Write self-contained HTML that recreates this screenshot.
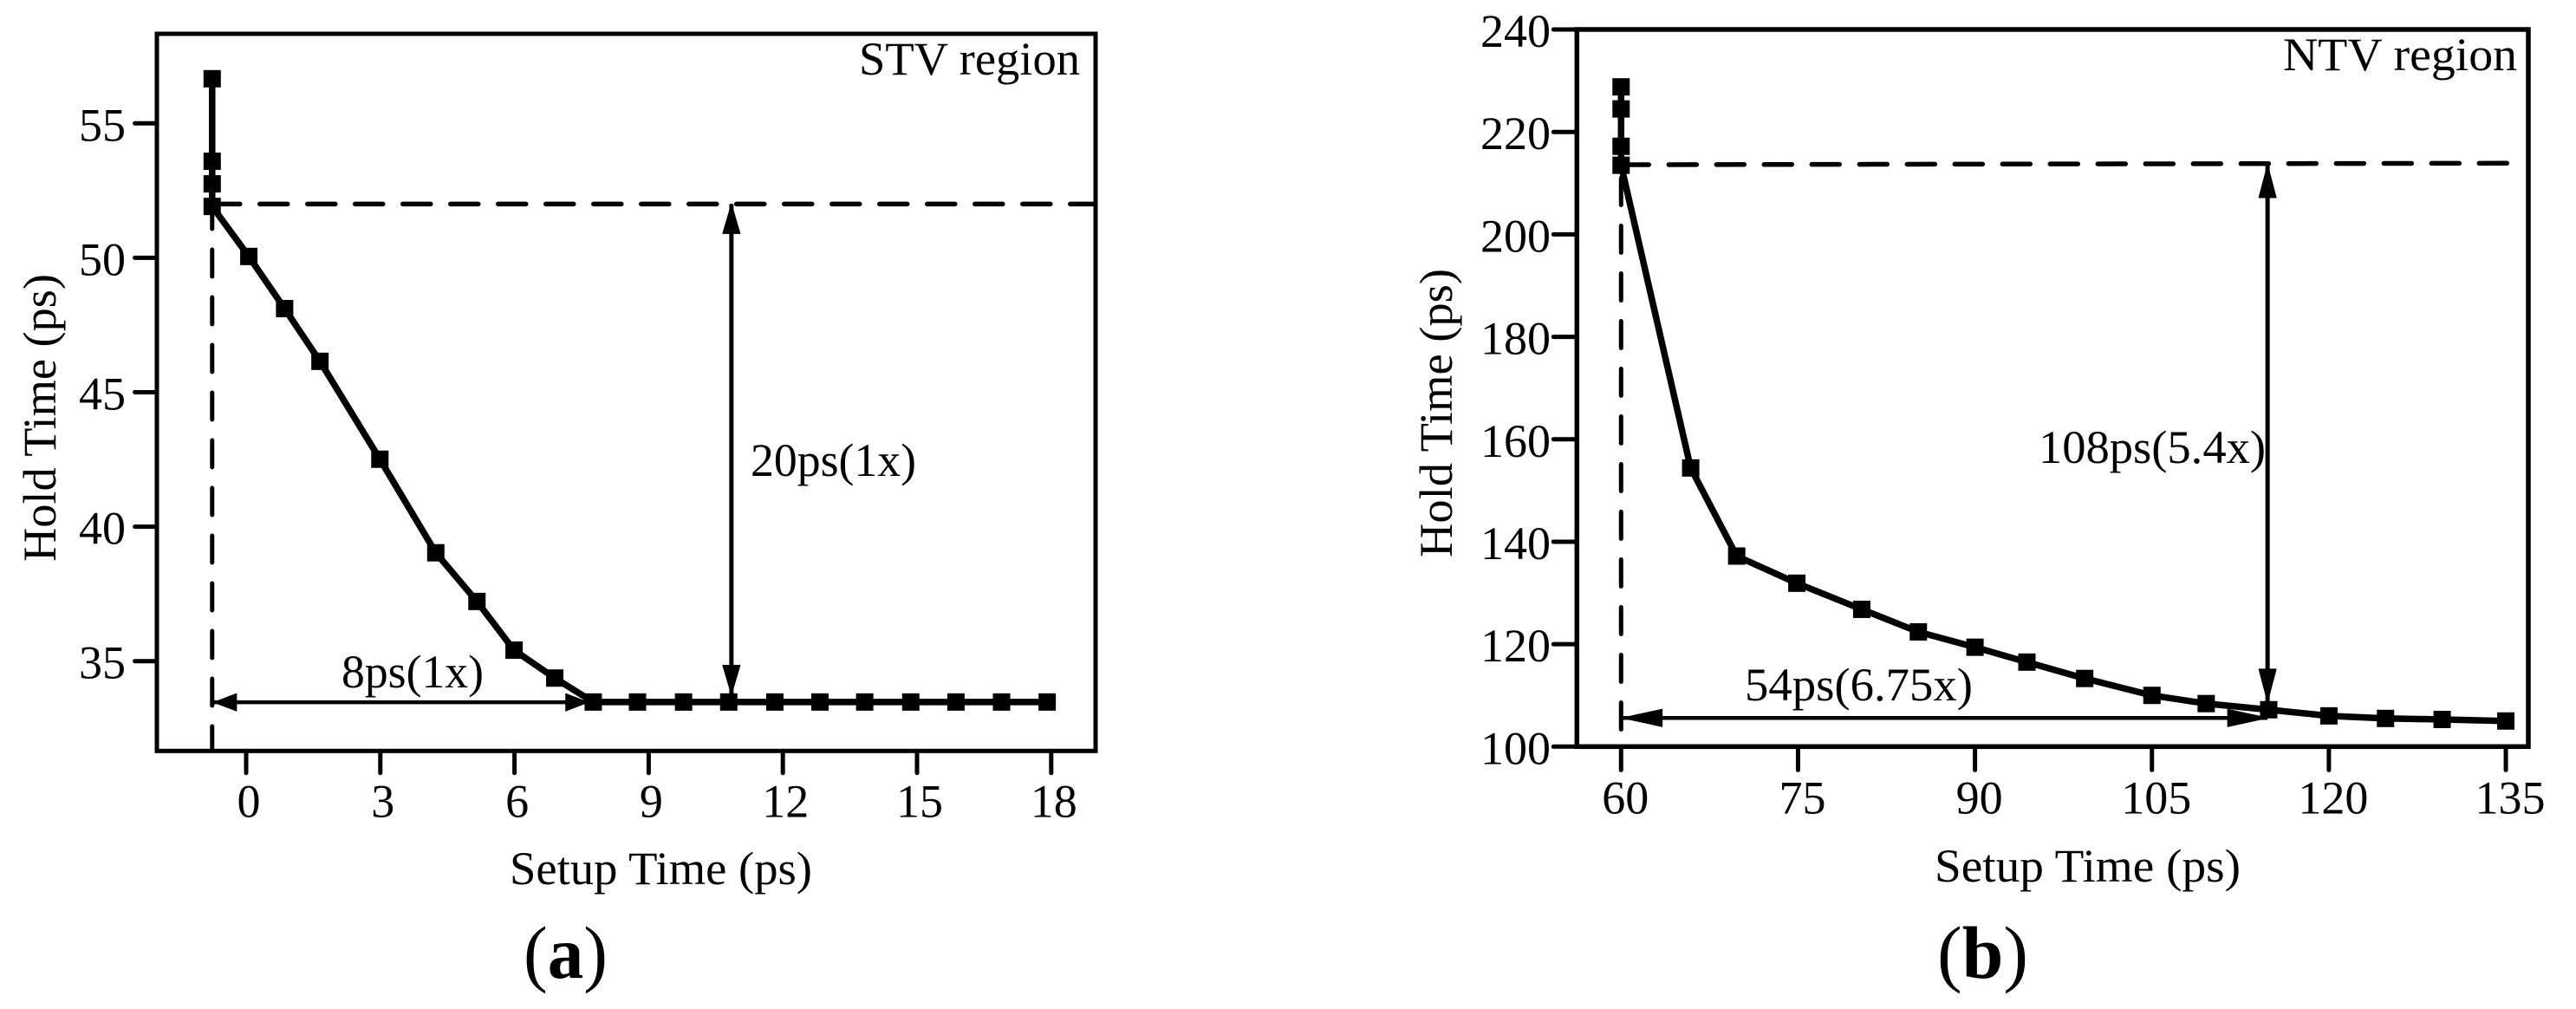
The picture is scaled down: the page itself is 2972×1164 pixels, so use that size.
<!DOCTYPE html>
<html lang="en">
<head>
<meta charset="utf-8">
<title>Hold Time vs Setup Time: STV and NTV regions</title>
<style>
html,body{margin:0;padding:0;background:#fff;}
svg{display:block;}
text{font-family:"Liberation Serif","Times New Roman",serif;fill:#000;font-size:54px;}
</style>
</head>
<body>
<svg id="figure" xmlns="http://www.w3.org/2000/svg" width="2972" height="1164" viewBox="0 0 2972 1164">
  <rect width="2972" height="1164" fill="#fff"/>
  <g id="panel-a"></g>
  <g id="panel-b"></g>

  <text x="991" y="86" textLength="255" lengthAdjust="spacingAndGlyphs">STV region</text>
  <text transform="translate(64,648) rotate(-90)" textLength="332" lengthAdjust="spacingAndGlyphs">Hold Time (ps)</text>
  <text x="588" y="1020" textLength="349" lengthAdjust="spacingAndGlyphs">Setup Time (ps)</text>
  <text x="394" y="793" textLength="164" lengthAdjust="spacingAndGlyphs">8ps(1x)</text>
  <text x="866" y="549" textLength="191" lengthAdjust="spacingAndGlyphs">20ps(1x)</text>
  <text x="604" y="1128" textLength="97" lengthAdjust="spacingAndGlyphs" style="font-size:86px">(<tspan font-weight="bold">a</tspan>)</text>

  <text x="2634" y="81" textLength="270" lengthAdjust="spacingAndGlyphs">NTV region</text>
  <text transform="translate(1675,643) rotate(-90)" textLength="333" lengthAdjust="spacingAndGlyphs">Hold Time (ps)</text>
  <text x="2232" y="1017" textLength="353" lengthAdjust="spacingAndGlyphs">Setup Time (ps)</text>
  <text x="2013" y="808" textLength="263" lengthAdjust="spacingAndGlyphs">54ps(6.75x)</text>
  <text x="2352" y="534" textLength="262" lengthAdjust="spacingAndGlyphs">108ps(5.4x)</text>
  <text x="2235" y="1128" textLength="105" lengthAdjust="spacingAndGlyphs" style="font-size:86px">(<tspan font-weight="bold">b</tspan>)</text>
</svg>
<script>
var stvSetup = [-0.76,-0.76,-0.76,-0.76,0.06,0.86,1.65,2.99,4.24,5.16,5.99,6.9,7.76,8.75,9.78,10.79,11.82,12.83,13.83,14.86,15.87,16.89,17.91];
var stvHold = [56.66,53.59,52.75,51.91,50.05,48.11,46.15,42.51,39.03,37.22,35.41,34.37,33.48,33.48,33.48,33.48,33.48,33.48,33.48,33.48,33.48,33.48,33.48];
var stvXTicks = [0,3,6,9,12,15,18];
var stvYTicks = [35,40,45,50,55];
var stvRefHold = [52,52];
var stvRefSetup = [-0.76,18.98];
var stvSetupArrow = [-0.72,7.65,33.47];
var stvHoldArrow = [10.85,52,33.75];

var ntvSetup = [60,60,60,60,65.9,69.8,74.9,80.4,85.2,90,94.4,99.3,105,109.6,114.9,120,124.8,129.6,135];
var ntvHold = [228.8,224.5,217.2,213.5,154.4,137.2,131.9,126.8,122.4,119.4,116.5,113.3,110,108.4,107.2,106,105.5,105.3,105];
var ntvXTicks = [60,75,90,105,120,135];
var ntvYTicks = [100,120,140,160,180,200,220,240];
var ntvRefHold = [213.6,213.9];
var ntvRefSetup = [60,135.7];
var ntvSetupArrow = [60.1,114.8,105.6];
var ntvHoldArrow = [114.8,213.6,108.7];

var SVGNS = 'http://www.w3.org/2000/svg';

function make(parent, tag, name, attrs) {
  var el = document.createElementNS(SVGNS, tag);
  
  
  for (var k in attrs) { el.setAttribute(k, attrs[k]); }
  parent.appendChild(el);
  return el;
}

function arrowHead(parent, name, tipX, tipY, dx, dy, len, half) {
  var bx = tipX + dx * len, by = tipY + dy * len;
  var px = -dy * half, py = dx * half;
  var pts = [tipX, tipY, bx + px, by + py, bx - px, by - py].join(' ');
  make(parent, 'polygon', name, {points: pts, fill: '#000', stroke: '#000', 'stroke-width': 1, 'stroke-linejoin': 'round'});
}

function drawPanel(cfg) {
  var g = document.getElementById(cfg.id);
  var x = cfg.x, y = cfg.y, p = cfg.prefix;
  var f = cfg.frame;

  cfg.yTicks.forEach(function (v) {
    make(g, 'line', p + '-y-tick-' + v, {x1: f.left - cfg.tickLen, x2: f.left, y1: y(v), y2: y(v), stroke: '#000', 'stroke-width': 5, 'stroke-linecap': 'round'});
    var t = make(g, 'text', p + '-y-tick-label-' + v, {x: cfg.yLabelRight, y: y(v) + 20, 'text-anchor': 'end'});
    t.textContent = String(v);
  });
  cfg.xTicks.forEach(function (v) {
    make(g, 'line', p + '-x-tick-' + v, {x1: x(v), x2: x(v), y1: f.bottom, y2: f.bottom + cfg.tickLen, stroke: '#000', 'stroke-width': 5, 'stroke-linecap': 'round'});
    var t = make(g, 'text', p + '-x-tick-label-' + v, {x: x(v) + cfg.xLabelShift, y: cfg.xLabelBase, 'text-anchor': 'middle'});
    t.textContent = String(v);
  });

  make(g, 'rect', p + '-plot-frame', {x: f.left, y: f.top, width: f.right - f.left, height: f.bottom - f.top, fill: 'none', stroke: '#000', 'stroke-width': cfg.frameWidth});

  make(g, 'line', p + '-reference-hold-dashed', {
    x1: x(cfg.refSetup[0]), y1: y(cfg.refHold[0]), x2: x(cfg.refSetup[1]), y2: y(cfg.refHold[1]),
    stroke: '#000', 'stroke-width': 5.5, 'stroke-dasharray': '32 23', 'stroke-linecap': 'round'
  });
  make(g, 'line', p + '-reference-setup-dashed', {
    x1: x(cfg.refSetup[0]), y1: cfg.vDashStart, x2: x(cfg.refSetup[0]), y2: cfg.vDashEnd,
    stroke: '#000', 'stroke-width': 5, 'stroke-dasharray': '31 24', 'stroke-linecap': 'round'
  });

  var sa = cfg.setupArrow, ha = cfg.holdArrow;
  make(g, 'line', p + '-setup-arrow-shaft', {x1: x(sa[0]), y1: y(sa[2]), x2: x(sa[1]), y2: y(sa[2]), stroke: '#000', 'stroke-width': 4.5});
  arrowHead(g, p + '-setup-arrow-left-head', x(sa[0]), y(sa[2]), 1, 0, cfg.headH, 10);
  arrowHead(g, p + '-setup-arrow-right-head', x(sa[1]), y(sa[2]), -1, 0, cfg.headH, 10);
  make(g, 'line', p + '-hold-arrow-shaft', {x1: x(ha[0]), y1: y(ha[1]), x2: x(ha[0]), y2: y(ha[2]), stroke: '#000', 'stroke-width': 5});
  arrowHead(g, p + '-hold-arrow-top-head', x(ha[0]), y(ha[1]), 0, 1, cfg.headV, 10);
  arrowHead(g, p + '-hold-arrow-bottom-head', x(ha[0]), y(ha[2]), 0, -1, cfg.headV, 10);

  var pts = cfg.setup.map(function (v, i) { return x(v) + ',' + y(cfg.hold[i]); }).join(' ');
  make(g, 'polyline', p + '-hold-setup-line', {points: pts, fill: 'none', stroke: '#000', 'stroke-width': 7.5, 'stroke-linejoin': 'round'});
  cfg.setup.forEach(function (v, i) {
    make(g, 'rect', p + '-point-' + i, {x: x(v) - 10, y: y(cfg.hold[i]) - 10, width: 20, height: 20, fill: '#000'});
  });
}

drawPanel({
  id: 'panel-a', prefix: 'stv',
  x: function (v) { return 284 + v * 51.6; },
  y: function (v) { return 142.3 + (55 - v) * 31.02; },
  frame: {left: 181, right: 1264, top: 39, bottom: 866.3},
  frameWidth: 5, tickLen: 25.4,
  yLabelRight: 145, xLabelShift: 3, xLabelBase: 942.6,
  xTicks: stvXTicks, yTicks: stvYTicks,
  setup: stvSetup, hold: stvHold,
  refHold: stvRefHold, refSetup: stvRefSetup,
  vDashStart: 233, vDashEnd: 864,
  setupArrow: stvSetupArrow, holdArrow: stvHoldArrow,
  headH: 26, headV: 34
});

drawPanel({
  id: 'panel-b', prefix: 'ntv',
  x: function (v) { return 1870.3 + (v - 60) * 13.61; },
  y: function (v) { return 861.3 - (v - 100) * 5.909; },
  frame: {left: 1819.3, right: 2917, top: 34, bottom: 861.3},
  frameWidth: 5.5, tickLen: 27,
  yLabelRight: 1789, xLabelShift: 5, xLabelBase: 938.3,
  xTicks: ntvXTicks, yTicks: ntvYTicks,
  setup: ntvSetup, hold: ntvHold,
  refHold: ntvRefHold, refSetup: ntvRefSetup,
  vDashStart: 205.5, vDashEnd: 841.5,
  setupArrow: ntvSetupArrow, holdArrow: ntvHoldArrow,
  headH: 46, headV: 38
});
</script>
</body>
</html>
